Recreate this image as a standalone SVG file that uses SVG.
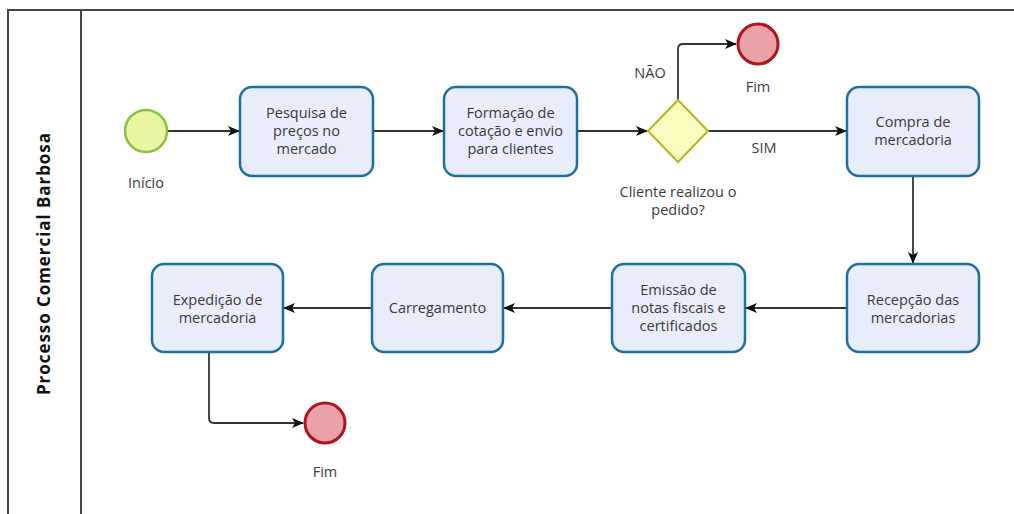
<svg xmlns="http://www.w3.org/2000/svg" width="1014" height="514" viewBox="0 0 1014 514">
<style>
.task{fill:#e9edfb;stroke:#1b6fa2;stroke-width:2.5}
.lbl{font-family:"Open Sans","Noto Sans",sans-serif;font-size:14.5px;fill:#3a3a3a;text-anchor:middle}
.end{fill:#e8a2a8;stroke:#b0141e;stroke-width:3}
.conn{fill:none;stroke:#333;stroke-width:1.8}
</style>
<defs>
<marker id="arr" viewBox="0 0 12 10" refX="11" refY="5" markerWidth="12" markerHeight="10" markerUnits="userSpaceOnUse" orient="auto">
<path d="M0,0 L12,5 L0,10 L3,5 Z" fill="#111"/>
</marker>
</defs>
<rect width="1014" height="514" fill="#fff"/>
<g id="pool">
<rect x="8" y="10" width="1012" height="512" fill="none" stroke="#444" stroke-width="2"/>
<line x1="81" y1="10" x2="81" y2="514" stroke="#444" stroke-width="2"/>
<text transform="translate(50,264) rotate(-90)" font-family="'Open Sans','Noto Sans',sans-serif" font-size="17" font-weight="bold" fill="#111" text-anchor="middle" textLength="262" lengthAdjust="spacing">Processo Comercial Barbosa</text>
</g>
<g id="connectors">
<path class="conn" d="M167,131 H239" marker-end="url(#arr)"/>
<path class="conn" d="M373,131 H443" marker-end="url(#arr)"/>
<path class="conn" d="M577,131 H647" marker-end="url(#arr)"/>
<path class="conn" d="M678,100 V49 Q678,44 683,44 H736" marker-end="url(#arr)"/>
<path class="conn" d="M707,131 H846" marker-end="url(#arr)"/>
<path class="conn" d="M913,176 V263" marker-end="url(#arr)"/>
<path class="conn" d="M847,308 H746" marker-end="url(#arr)"/>
<path class="conn" d="M612,308 H504" marker-end="url(#arr)"/>
<path class="conn" d="M372,308 H284" marker-end="url(#arr)"/>
<path class="conn" d="M209,352 V418 Q209,423 214,423 H303" marker-end="url(#arr)"/>
<text class="lbl" x="650" y="78">NÃO</text>
<text class="lbl" x="764" y="153">SIM</text>
</g>
<g id="start">
<circle cx="146" cy="131" r="21" fill="#e8f6a3" stroke="#86c33f" stroke-width="2.5"/>
<text class="lbl" x="146" y="188">Início</text>
</g>
<g id="pesquisa">
<rect class="task" x="240" y="87" width="133" height="89" rx="12"/>
<text class="lbl" x="306.5" y="118">Pesquisa de</text>
<text class="lbl" x="306.5" y="136">preços no</text>
<text class="lbl" x="306.5" y="154">mercado</text>
</g>
<g id="formacao">
<rect class="task" x="444" y="87" width="133" height="89" rx="12"/>
<text class="lbl" x="510.5" y="118">Formação de</text>
<text class="lbl" x="510.5" y="136">cotação e envio</text>
<text class="lbl" x="510.5" y="154">para clientes</text>
</g>
<g id="gateway">
<path d="M678,100 L708,131 L678,162 L648,131 Z" fill="#fbfbc0" stroke="#b5b522" stroke-width="2"/>
<text class="lbl" x="678" y="197">Cliente realizou o</text>
<text class="lbl" x="678" y="215">pedido?</text>
</g>
<g id="fim1">
<circle class="end" cx="758" cy="44" r="20"/>
<text class="lbl" x="758" y="92">Fim</text>
</g>
<g id="compra">
<rect class="task" x="847" y="87" width="132" height="89" rx="12"/>
<text class="lbl" x="913" y="127">Compra de</text>
<text class="lbl" x="913" y="145">mercadoria</text>
</g>
<g id="recepcao">
<rect class="task" x="847" y="264" width="132" height="88" rx="12"/>
<text class="lbl" x="913" y="305">Recepção das</text>
<text class="lbl" x="913" y="323">mercadorias</text>
</g>
<g id="emissao">
<rect class="task" x="612" y="264" width="133" height="88" rx="12"/>
<text class="lbl" x="678.5" y="295">Emissão de</text>
<text class="lbl" x="678.5" y="313">notas fiscais e</text>
<text class="lbl" x="678.5" y="331">certificados</text>
</g>
<g id="carregamento">
<rect class="task" x="372" y="264" width="131" height="88" rx="12"/>
<text class="lbl" x="437.5" y="313">Carregamento</text>
</g>
<g id="expedicao">
<rect class="task" x="152" y="264" width="131" height="88" rx="12"/>
<text class="lbl" x="217.5" y="305">Expedição de</text>
<text class="lbl" x="217.5" y="323">mercadoria</text>
</g>
<g id="fim2">
<circle class="end" cx="325" cy="423" r="20"/>
<text class="lbl" x="325" y="477">Fim</text>
</g>
</svg>
